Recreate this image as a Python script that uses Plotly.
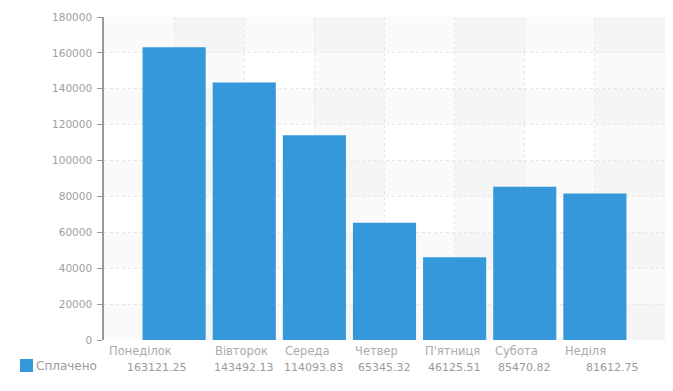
import plotly.graph_objects as go

categories = ["Понеділок", "Вівторок", "Середа", "Четвер", "П'ятниця", "Субота", "Неділя"]
paid = [163121.25, 143492.13, 114093.83, 65345.32, 46125.51, 85470.82, 81612.75]
value_labels = ["163121.25", "143492.13", "114093.83", "65345.32", "46125.51", "85470.82", "81612.75"]
series_name = "Сплачено"
y_ticks = list(range(0, 180001, 20000))
y_tick_text = [str(t) for t in y_ticks]

FONT = "DejaVu Sans"
FS = 10.5
BAR = "#3498db"
TXT = "#a0a0a0"

xs = list(range(len(categories)))
fig = go.Figure()
fig.add_trace(go.Bar(x=xs, y=paid, name=series_name, marker=dict(color=BAR, line=dict(width=0)),
                     width=0.9, showlegend=False, hoverinfo="y"))

shapes = []
for k in range(-1, 7):
    if (k + 1) % 2 == 1:
        shapes.append(dict(type="rect", xref="x", yref="y", x0=k, x1=k + 1, y0=0, y1=180000,
                           fillcolor="rgba(0,0,0,0.02)", line=dict(width=0), layer="below"))
for i, t in enumerate(y_ticks[:-1]):
    if i % 2 == 0:
        shapes.append(dict(type="rect", xref="x", yref="y", x0=-1, x1=7, y0=t, y1=t + 20000,
                           fillcolor="rgba(0,0,0,0.02)", line=dict(width=0), layer="below"))
shapes.append(dict(type="rect", xref="paper", yref="paper",
                   x0=(20 - 104) / 561, x1=(33 - 104) / 561,
                   y0=-(359 - 340) / 323, y1=-(372 - 340) / 323,
                   fillcolor=BAR, line=dict(width=0)))

annotations = []
for i, c in enumerate(categories):
    shift = -36 if i == 0 else 0
    annotations.append(dict(x=i - 0.45, y=0, xref="x", yref="y", text=c, showarrow=False,
                            xanchor="left", yanchor="middle", yshift=-11, xshift=shift,
                            font=dict(family=FONT, size=11.5, color="#ababab")))
for i, v in enumerate(value_labels):
    shift = -17 if i == 0 else (18 if i == len(value_labels) - 1 else 0)
    annotations.append(dict(x=i, y=0, xref="x", yref="y", text=v, showarrow=False,
                            xanchor="center", yanchor="middle", yshift=-27, xshift=shift,
                            font=dict(family=FONT, size=11, color="#9a9a9a")))
annotations.append(dict(x=(34 - 104) / 561, y=-(366 - 340) / 323, xref="paper", yref="paper",
                        text=series_name, showarrow=False, xanchor="left", yanchor="middle",
                        font=dict(family=FONT, size=12, color="#9a9a9a")))

fig.update_layout(
    width=673, height=391,
    margin=dict(l=104, r=8, t=17, b=51),
    paper_bgcolor="white", plot_bgcolor="white",
    font=dict(family=FONT, size=FS, color=TXT),
    shapes=shapes, annotations=annotations,
    bargap=0.1,
    xaxis=dict(range=[-1, 7], tickvals=xs, showticklabels=False, showgrid=True,
               gridcolor="#e6e6e6", griddash="dot", gridwidth=1, zeroline=False,
               showline=False, ticks=""),
    yaxis=dict(range=[0, 180000], tickvals=y_ticks, ticktext=y_tick_text, showgrid=True,
               gridcolor="#e6e6e6", griddash="dot", gridwidth=1, zeroline=False,
               showline=True, linecolor="#999999",
               linewidth=1.5, ticks="outside", ticklen=5, tickcolor="#999999",
               tickfont=dict(family=FONT, size=FS, color=TXT), ticklabelstandoff=3),
)
fig.write_html("out.html")
